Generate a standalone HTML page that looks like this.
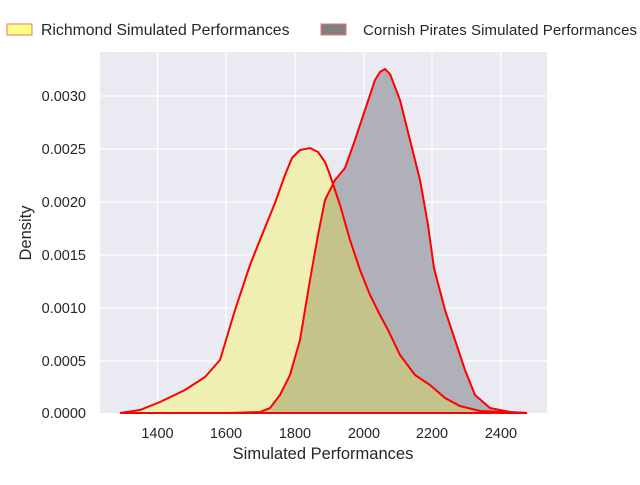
<!DOCTYPE html>
<html><head><style>body{margin:0;background:#fff}svg text{font-family:"Liberation Sans",sans-serif;fill:#262626}</style></head><body>
<svg width="640" height="480" xmlns="http://www.w3.org/2000/svg">
<defs>
<path id="c" d="M230,413 L260,412 L270,408 L280,395 L290,375 L300,340 L310,280 L318,235 L325,200 L335,180 L345,168 L355,140 L365,110 L375,80 L380,72 L385,69 L390,74 L400,100 L410,140 L420,180 L428,225 L434,268 L445,310 L455,340 L465,370 L475,395 L490,408 L510,412 L527,413 Z"/>
<path id="r" d="M120,413 L140,410 L160,402 L185,390 L205,377 L220,360 L235,310 L250,265 L262,235 L275,203 L285,175 L292,158 L300,150 L310,148 L318,152 L325,162 L330,175 L340,205 L350,240 L360,270 L370,295 L380,315 L388,330 L400,355 L415,375 L430,385 L445,398 L460,406 L480,411 L527,413 Z"/>
<clipPath id="rc"><use href="#r"/></clipPath>
</defs>
<rect x="100" y="52" width="447" height="361" fill="#eaeaf2"/>
<g stroke="#fff" stroke-width="1.2">
<line x1="157.5" y1="52" x2="157.5" y2="413"/><line x1="226" y1="52" x2="226" y2="413"/><line x1="295" y1="52" x2="295" y2="413"/><line x1="364" y1="52" x2="364" y2="413"/><line x1="432" y1="52" x2="432" y2="413"/><line x1="501" y1="52" x2="501" y2="413"/>
<line x1="100" y1="96" x2="547" y2="96"/><line x1="100" y1="149" x2="547" y2="149"/><line x1="100" y1="202" x2="547" y2="202"/><line x1="100" y1="255" x2="547" y2="255"/><line x1="100" y1="308" x2="547" y2="308"/><line x1="100" y1="361" x2="547" y2="361"/>
</g>
<use href="#c" fill="#b0b0b8"/>
<use href="#r" fill="#efefb4"/>
<use href="#c" fill="#c4c48a" clip-path="url(#rc)"/>
<use href="#c" fill="none" stroke="red" stroke-width="2"/>
<use href="#r" fill="none" stroke="red" stroke-width="2"/>
<g font-size="14.5" text-anchor="middle">
<text x="157.5" y="438">1400</text><text x="226" y="438">1600</text><text x="295" y="438">1800</text><text x="364" y="438">2000</text><text x="432" y="438">2200</text><text x="501" y="438">2400</text>
<text x="323" y="459" font-size="16.5">Simulated Performances</text>
</g>
<g font-size="14.5" text-anchor="end">
<text x="86" y="101">0.0030</text><text x="86" y="154">0.0025</text><text x="86" y="207">0.0020</text><text x="86" y="260">0.0015</text><text x="86" y="313">0.0010</text><text x="86" y="366">0.0005</text><text x="86" y="418">0.0000</text>
</g>
<text transform="translate(31,233) rotate(-90)" font-size="16.5" text-anchor="middle">Density</text>
<rect x="7" y="24" width="25" height="11" fill="#ffff80" stroke="#f07070"/>
<text x="41" y="35" font-size="15.8">Richmond Simulated Performances</text>
<rect x="321" y="24" width="25" height="11" fill="#808080" stroke="#f07070"/>
<text x="363" y="35" font-size="15" textLength="274">Cornish Pirates Simulated Performances</text>
</svg>
</body></html>
